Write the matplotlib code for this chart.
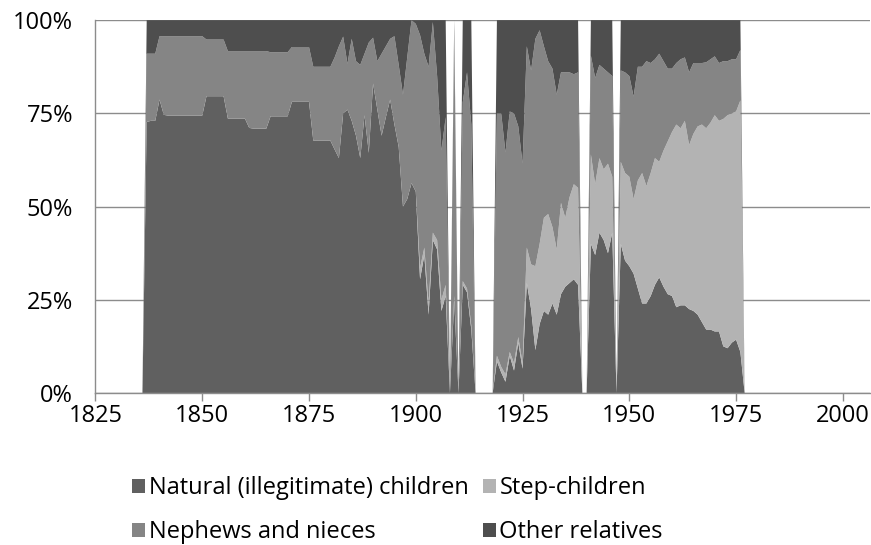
import matplotlib
matplotlib.use("Agg")
import matplotlib.pyplot as plt
from matplotlib.patches import Patch
import numpy as np

plt.rcParams['font.family'] = ['Open Sans', 'DejaVu Sans']

years = list(range(1836, 1978))

# Share of each group (%) per year; 0 in years without data
natural = [
    0, 72.7, 73.0, 73.0, 78.7, 74.6, 74.4, 74.4, 74.4, 74.4,            # 1836-1845
    74.4, 74.4, 74.4, 74.4, 74.4, 79.6, 79.6, 79.6, 79.6, 79.6,         # 1846-1855
    73.6, 73.6, 73.6, 73.6, 73.6, 71.1, 70.9, 70.9, 70.9, 70.9,         # 1856-1865
    74.2, 74.2, 74.2, 74.2, 74.2, 78.1, 78.1, 78.1, 78.1, 78.1,         # 1866-1875
    67.7, 67.7, 67.7, 67.7, 67.7, 65.3, 63.0, 75.0, 76.0, 73.0,         # 1876-1885
    69.0, 63.0, 74.5, 64.4, 83.0, 76.0, 69.0, 74.0, 78.7, 72.0,         # 1886-1895
    66.0, 50.0, 52.0, 56.3, 54.0, 30.5, 37.0, 21.0, 41.0, 38.5,         # 1896-1905
    22.0, 26.0, 0, 25.0, 0, 29.0, 27.0, 17.0, 0, 0,                     # 1906-1915
    0, 0, 0, 8.5, 5.5, 3.0, 10.0, 6.0, 13.5, 6.5,                       # 1916-1925
    29.5, 22.5, 11.5, 18.5, 22.0, 21.0, 24.0, 21.0, 26.5, 28.5,         # 1926-1935
    29.5, 30.5, 29.0, 0, 0, 40.0, 37.0, 43.0, 41.0, 37.5,               # 1936-1945
    43.0, 0, 40.0, 35.5, 34.0, 32.0, 28.0, 24.0, 24.0, 26.0,            # 1946-1955
    29.0, 31.0, 28.5, 26.5, 26.0, 23.0, 23.5, 23.5, 22.5, 22.0,         # 1956-1965
    21.0, 19.0, 17.0, 17.0, 16.5, 16.5, 12.5, 12.0, 13.5, 14.3,         # 1966-1975
    11.0, 0,                                                            # 1976-1977
]
step = [
    0, 0, 0, 0, 0, 0, 0, 0, 0, 0,
    0, 0, 0, 0, 0, 0, 0, 0, 0, 0,
    0, 0, 0, 0, 0, 0, 0, 0, 0, 0,
    0, 0, 0, 0, 0, 0, 0, 0, 0, 0,
    0, 0, 0, 0, 0, 0, 0, 0, 0, 0,
    0, 0, 0, 0, 0, 0, 0, 0, 0, 0,
    0, 0, 0, 0, 0, 3.0, 2.0, 3.0, 2.0, 2.5,
    3.0, 3.0, 0, 1.0, 0, 1.0, 1.0, 1.0, 0, 0,
    0, 0, 0, 1.5, 1.5, 2.0, 1.0, 2.0, 1.5, 1.5,
    9.5, 12.0, 22.5, 21.5, 25.0, 27.0, 20.5, 17.5, 24.5, 18.5,
    23.0, 25.5, 26.0, 0, 0, 24.0, 19.0, 20.0, 19.0, 24.0,
    15.0, 0, 22.0, 23.5, 24.0, 20.0, 29.0, 35.0, 31.5, 33.0,
    34.0, 31.0, 36.5, 41.0, 44.0, 49.0, 47.5, 49.5, 44.0, 47.5,
    50.5, 53.0, 54.0, 55.5, 58.0, 56.5, 61.0, 62.5, 61.5, 61.2,
    67.5, 0,
]
nephews = [
    0, 18.3, 18.0, 18.0, 17.0, 21.1, 21.3, 21.3, 21.3, 21.3,
    21.3, 21.3, 21.3, 21.3, 21.3, 15.2, 15.2, 15.2, 15.2, 15.2,
    18.1, 18.1, 18.1, 18.1, 18.1, 20.6, 20.8, 20.8, 20.8, 20.8,
    17.2, 17.2, 17.2, 17.2, 17.2, 14.7, 14.7, 14.7, 14.7, 14.7,
    19.8, 19.8, 19.8, 19.8, 19.8, 24.7, 30.0, 20.6, 12.3, 22.0,
    20.0, 25.0, 16.5, 29.6, 12.3, 13.0, 22.0, 19.0, 16.3, 23.7,
    22.0, 30.0, 38.0, 43.7, 45.0, 62.5, 52.0, 63.5, 56.5, 44.0,
    40.0, 45.0, 0, 71.0, 0, 48.0, 58.0, 54.0, 0, 0,
    0, 0, 0, 65.0, 68.0, 59.5, 64.5, 67.0, 56.5, 53.5,
    54.0, 52.0, 61.0, 57.3, 46.0, 41.0, 42.5, 41.5, 35.0, 39.0,
    33.5, 29.5, 31.0, 0, 0, 26.5, 28.5, 25.0, 27.0, 24.5,
    27.0, 0, 24.5, 27.0, 27.0, 27.5, 30.5, 28.5, 33.5, 29.5,
    26.5, 29.0, 24.0, 19.5, 17.0, 16.5, 18.5, 17.0, 19.5, 19.0,
    17.0, 16.5, 17.7, 17.0, 15.8, 15.5, 15.5, 14.5, 14.5, 14.0,
    13.5, 0,
]
other = [
    0, 9.0, 9.0, 9.0, 4.3, 4.3, 4.3, 4.3, 4.3, 4.3,
    4.3, 4.3, 4.3, 4.3, 4.3, 5.2, 5.2, 5.2, 5.2, 5.2,
    8.3, 8.3, 8.3, 8.3, 8.3, 8.3, 8.3, 8.3, 8.3, 8.3,
    8.6, 8.6, 8.6, 8.6, 8.6, 7.2, 7.2, 7.2, 7.2, 7.2,
    12.5, 12.5, 12.5, 12.5, 12.5, 10.0, 7.0, 4.4, 11.7, 5.0,
    11.0, 12.0, 9.0, 6.0, 4.7, 11.0, 9.0, 7.0, 5.0, 4.3,
    12.0, 20.0, 10.0, 0.0, 1.0, 4.0, 9.0, 12.5, 0.5, 15.0,
    35.0, 26.0, 0, 3.0, 0, 22.0, 14.0, 28.0, 0, 0,
    0, 0, 0, 25.0, 25.0, 35.5, 24.5, 25.0, 28.5, 38.5,
    7.0, 13.5, 5.0, 2.7, 7.0, 11.0, 13.0, 20.0, 14.0, 14.0,
    14.0, 14.5, 14.0, 0, 0, 9.5, 15.5, 12.0, 13.0, 14.0,
    15.0, 0, 13.5, 14.0, 15.0, 20.5, 12.5, 12.5, 11.0, 11.5,
    10.5, 9.0, 11.0, 13.0, 13.0, 11.5, 10.5, 10.0, 14.0, 11.5,
    11.5, 11.5, 11.3, 10.5, 9.7, 11.5, 11.0, 11.0, 10.5, 10.5,
    8.0, 0,
]

labels = ["Natural (illegitimate) children", "Step-children",
          "Nephews and nieces", "Other relatives"]
colors = ["#606060", "#b3b3b3", "#858585", "#4e4e4e"]
x_ticks = [1825, 1850, 1875, 1900, 1925, 1950, 1975, 2000]
y_ticks = [0, 25, 50, 75, 100]
y_ticklabels = ["0%", "25%", "50%", "75%", "100%"]

fig = plt.figure(figsize=(8.71, 5.45), dpi=100)
ax = fig.add_axes([0.1096, 0.279, 0.889, 0.684])

ax.stackplot(years, natural, step, nephews, other, colors=colors,
             linewidth=0, antialiased=True)

ax.set_xlim(1825, 2006.3)
ax.set_ylim(0, 100)
ax.set_xticks(x_ticks)
ax.set_yticks(y_ticks)
ax.set_yticklabels(y_ticklabels)
ax.set_axisbelow(True)
ax.yaxis.grid(True, color="#8c8c8c", linewidth=1.0)
ax.xaxis.grid(False)
for s in ["top", "right"]:
    ax.spines[s].set_visible(False)
for s in ["left", "bottom"]:
    ax.spines[s].set_color("#8c8c8c")
    ax.spines[s].set_linewidth(1.0)
ax.tick_params(axis="x", direction="out", length=6, width=1, color="#8c8c8c",
               labelsize=17, pad=2, labelcolor="#000000")
ax.tick_params(axis="y", length=0, labelsize=17, pad=16, labelcolor="#000000")

handles = [Patch(facecolor=colors[i], edgecolor="none") for i in range(4)]
order = [0, 2, 1, 3]
fig.legend([handles[i] for i in order], [labels[i] for i in order],
           loc="upper left", bbox_to_anchor=(0.152, 0.126), ncol=2,
           frameon=False, fontsize=17, handlelength=0.55, handleheight=0.55,
           handletextpad=0.15, columnspacing=0.6, labelspacing=0.85,
           borderaxespad=0, borderpad=0)

fig.savefig("out.png", dpi=100)
